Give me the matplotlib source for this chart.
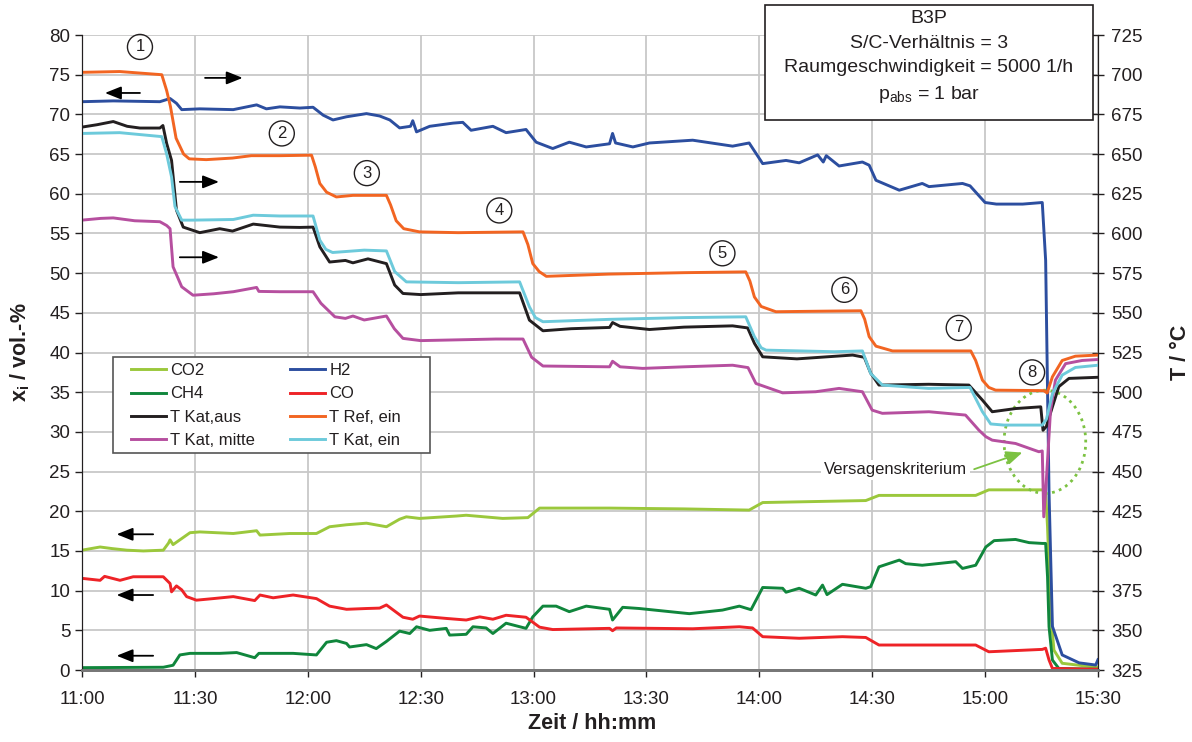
import matplotlib
matplotlib.use('Agg')
import matplotlib.pyplot as plt
from matplotlib.patches import Ellipse, Rectangle

plt.rcParams['font.family'] = ['Liberation Sans', 'DejaVu Sans']
plt.rcParams['mathtext.fontset'] = 'custom'
plt.rcParams['mathtext.rm'] = 'Liberation Sans'
plt.rcParams['mathtext.bf'] = 'Liberation Sans:bold'

# minutes after 11:00, gas fractions in vol.-%
co2 = [(0, 15.1), (4.8, 15.5), (8, 15.3), (11.9, 15.1), (16.3, 15.0), (21.6, 15.1), (23.0, 16.0),
       (23.4, 16.4), (24.2, 15.8), (26, 16.4), (28.7, 17.3), (31.3, 17.4), (40.2, 17.2), (46.4, 17.55),
       (47.3, 17.0), (55.2, 17.2), (62.3, 17.2), (65.8, 18.05), (70.3, 18.3), (75.6, 18.5), (80.9, 18.05),
       (84.4, 19.0), (86.2, 19.3), (89.7, 19.1), (99.5, 19.4), (102.1, 19.5), (111.8, 19.1), (118.5, 19.2),
       (121.6, 20.4), (140.2, 20.4), (160, 20.3), (177.3, 20.15), (180.9, 21.1), (208.3, 21.35),
       (211.8, 22.0), (237.5, 22.0), (241, 22.7), (255.2, 22.7), (256.1, 22.3), (256.6, 18.05),
       (257.4, 7.6), (258.3, 2.5), (260.5, 0.85), (269.7, 0.34), (270, 0.34)]

ch4 = [(0, 0.3), (21.6, 0.35), (24.2, 0.6), (26, 1.9), (28.7, 2.1), (36.6, 2.1), (41.1, 2.2), (45.9, 1.55),
       (47, 2.1), (56.1, 2.1), (62.3, 1.9), (65, 3.5), (67.6, 3.7), (70.3, 3.35), (71.1, 2.9), (75.6, 3.2),
       (78.2, 2.7), (80.9, 3.6), (84.4, 4.9), (87.1, 4.6), (88.9, 5.45), (92.4, 5.0), (96.8, 5.25),
       (97.7, 4.4), (102.1, 4.5), (103.9, 5.45), (107.4, 5.3), (109.2, 4.6), (112.7, 5.9), (118, 5.25),
       (119.8, 6.7), (122.5, 8.05), (126, 8.05), (129.5, 7.35), (134, 8.05), (140.2, 7.65), (141, 6.3),
       (143.7, 7.9), (148.1, 7.75), (161.4, 7.1), (170.2, 7.55), (174.7, 8.05), (177.8, 7.6), (180.9, 10.4),
       (186.2, 10.3), (187.1, 9.8), (190.6, 10.3), (195, 9.45), (196.8, 10.7), (198, 9.5), (202.1, 10.8),
       (208.3, 10.3), (209.6, 10.5), (211.8, 13.0), (217.2, 13.85), (218.9, 13.4), (223.3, 13.2),
       (232.2, 13.65), (234, 12.8), (237.5, 13.2), (240.2, 15.5), (242.4, 16.3), (248.1, 16.45),
       (251.7, 16.05), (255.2, 15.95), (256.1, 15.95), (256.6, 11.75), (257, 5.45), (257.9, 1.26),
       (259.6, 0.2), (270, 0.1)]

co = [(0, 11.55), (4.8, 11.3), (6, 11.8), (10.1, 11.3), (13.6, 11.75), (21.6, 11.75), (23.4, 10.9),
      (23.8, 9.85), (25.1, 10.6), (26.5, 10.1), (27.8, 9.25), (30.4, 8.8), (34.9, 9.0), (40.2, 9.25),
      (45.9, 8.75), (47.3, 9.45), (50.8, 9.1), (56.1, 9.45), (62.3, 9.0), (65.8, 8.05), (70.3, 7.65),
      (75.6, 7.75), (79.1, 7.8), (80.9, 8.2), (85.3, 6.65), (87.9, 6.4), (89.7, 6.8), (96.8, 6.5),
      (102.1, 6.3), (105.7, 6.7), (109.2, 6.4), (112.7, 6.9), (118, 6.65), (121.6, 5.4), (125.1, 5.1),
      (140.2, 5.25), (141, 4.95), (142, 5.3), (162.3, 5.2), (174.7, 5.45), (178.2, 5.3), (180.9, 4.2),
      (190.6, 4.0), (202.1, 4.2), (208.3, 4.1), (211.8, 3.15), (237.5, 3.15), (241, 2.3), (255.2, 2.6),
      (256.1, 2.75), (257, 1.26), (257.9, 0.2), (270, 0.1)]

h2 = [(0, 71.6), (8.3, 71.7), (20.7, 71.6), (23.4, 72.0), (25.1, 71.4), (26.5, 70.6), (31.3, 70.7),
      (40.2, 70.6), (46.4, 71.2), (49, 70.7), (52.6, 70.95), (57.9, 70.8), (61.4, 70.9), (64.1, 69.9),
      (66.7, 69.3), (70.3, 69.7), (75.6, 70.1), (79.1, 69.8), (81.8, 69.3), (84.4, 68.3), (87.3, 68.5),
      (87.9, 69.2), (88.9, 67.8), (92.4, 68.5), (98.6, 68.9), (101.2, 69.0), (103.4, 68.0), (109.2, 68.5),
      (112.7, 67.7), (118, 68.1), (120.7, 66.5), (125.1, 65.7), (129.5, 66.5), (134, 65.9), (140.2, 66.3),
      (141, 67.6), (141.8, 66.4), (146.4, 65.9), (150.8, 66.4), (162.3, 66.75), (172.9, 66.0),
      (177.3, 66.4), (180.9, 63.8), (187.1, 64.2), (190.6, 63.9), (195.5, 64.9), (197, 64.0),
      (197.8, 64.8), (201.2, 63.5), (207.4, 64.0), (209.2, 63.6), (211, 61.7), (217.2, 60.45),
      (223.3, 61.3), (225.1, 60.9), (234, 61.3), (236, 61.0), (240, 58.9), (243, 58.7), (250, 58.7),
      (255.2, 58.9), (256.1, 51.6), (257, 22.3), (257.9, 5.5), (260.5, 1.9), (265, 0.9), (269.4, 0.63),
      (270, 1.3)]

# temperatures in degC
t_ref_ein = [(0, 701.5), (10, 702), (21.2, 700), (22.5, 690), (23.5, 680), (25, 660), (27, 650), (28.5, 647),
             (33, 646.5), (40, 647.5), (45, 649), (52.6, 649), (61, 649.3), (62, 642), (63.2, 631.5),
             (65, 626), (67.6, 623), (72, 624), (80.9, 624), (82, 618), (83.5, 608), (85.5, 603),
             (89.7, 601), (100, 600.5), (117.2, 601), (118.5, 593), (119.8, 581), (121.5, 576), (123.4, 573),
             (140, 574.4), (160, 575.3), (176.4, 575.8), (177.5, 570), (178.7, 560), (180.5, 554),
             (184.4, 550.7), (195, 551), (207, 551.3), (208, 546), (209.2, 535), (211, 529), (215.4, 526),
             (236.2, 526), (237.5, 520), (239.3, 507.6), (241, 503), (242.8, 501.3), (255.6, 501),
             (256.5, 499.5), (257.9, 509.7), (260.5, 520), (264, 522.7), (270, 523.4)]

t_kat_ein = [(0, 663), (10, 663.5), (21.2, 661), (22.5, 650), (23.8, 635.6), (24.7, 617), (26.5, 608.4),
             (29.5, 608.4), (40.2, 608.8), (45.5, 611.5), (52.6, 611), (61.4, 611), (63.2, 595.8),
             (64.8, 590), (66.6, 588), (75, 589.5), (80.9, 589), (83.1, 576), (86.2, 569.5), (100, 569),
             (116.3, 569.5), (118.9, 553.8), (120.5, 547), (122.5, 544.4), (140.2, 545.9), (160, 547),
             (176.4, 547.5), (178.7, 535), (180.5, 528), (181.8, 526.5), (200, 525.5), (207.4, 526),
             (209.6, 511.8), (212.7, 504.5), (225, 502.4), (236, 503), (239.3, 487.7), (241.5, 480),
             (245, 479.3), (255.2, 479.3), (256.3, 483), (257.9, 499), (260.5, 510.8), (264, 515.6),
             (270, 517)]

t_kat_aus = [(0, 667), (4, 668.5), (8.3, 670.5), (12, 667.5), (15.4, 666.4), (20.7, 666.4), (21.5, 668),
             (22.5, 656.7), (23.8, 646), (25.1, 614.7), (26.9, 604), (31.3, 600.5), (36.6, 603), (40, 601.5),
             (45.5, 605.9), (52.6, 604), (57.9, 603.8), (61.4, 604), (63.2, 591.6), (65.8, 582), (70, 583),
             (72, 581.5), (76, 584), (80.9, 581), (83.1, 567.5), (85.3, 562.2), (90, 561.5), (100, 562.6),
             (116.3, 562.6), (118.9, 545.4), (122.5, 538.7), (130, 540), (140.2, 540.8), (141, 543.9),
             (143, 541.5), (150.8, 539.5), (160, 541), (172.9, 541.8), (176.9, 540.5), (178.7, 530.8),
             (180.9, 522.3), (190, 521), (204.8, 523.4), (207.9, 522), (209.6, 512), (211.8, 504.5),
             (225, 505), (235.7, 504.5), (239.3, 495), (241.9, 487.7), (248.1, 489.7), (254.8, 490.8),
             (255.4, 476), (256.3, 478.5), (257.9, 490.8), (259.6, 503.5), (262.3, 508.7), (270, 509.4)]

t_kat_mitte = [(0, 608.4), (5, 609.5), (8.3, 609.8), (14, 608), (20.7, 607.4), (22.5, 605), (23.4, 603),
               (24.2, 579), (26.5, 566.4), (29.5, 561.1), (35, 562), (40.2, 563.3), (46.4, 566), (47, 563.5),
               (52.6, 563.3), (61.4, 563.3), (63.5, 556), (67.2, 547.5), (70, 546.5), (72, 548), (75, 545.5),
               (80.9, 548), (83, 540), (85.3, 533.9), (90, 532.5), (100, 533), (110, 533.5), (117.2, 533.5),
               (119.5, 522), (122.5, 516.5), (140.2, 516), (141, 519.5), (143, 516), (149, 515), (160, 516),
               (172.9, 517), (177, 515.5), (179.1, 505.5), (186.2, 499.6), (195, 500.3), (201.2, 502.4),
               (207.4, 500.3), (210, 488.7), (212.7, 486.7), (225.1, 487.7), (234.8, 485.6), (238.4, 476),
               (240.2, 472), (241.9, 469.8), (248.1, 467.7), (254.3, 462.5), (255.2, 463), (255.6, 421.5),
               (256.3, 445), (257.4, 488.7), (258.7, 507.6), (261.4, 518), (265.8, 520), (270, 520.6)]

time_ticks = [0, 30, 60, 90, 120, 150, 180, 210, 240, 270]
time_labels = ['11:00', '11:30', '12:00', '12:30', '13:00', '13:30', '14:00', '14:30', '15:00', '15:30']

gas_series = [('CO2', co2, '#9bc83c'), ('CH4', ch4, '#10863c'), ('H2', h2, '#2c4e9f'), ('CO', co, '#ee2327')]
temp_series = [('T Kat,aus', t_kat_aus, '#231f20'), ('T Kat, mitte', t_kat_mitte, '#b64f9f'),
               ('T Ref, ein', t_ref_ein, '#f26522'), ('T Kat, ein', t_kat_ein, '#6dcadb')]

# circled step numbers (minute, vol.-%)
steps = ['1', '2', '3', '4', '5', '6', '7', '8']
step_pos = [(15.4, 78.5), (53.1, 67.6), (75.7, 62.6), (110.9, 57.9), (170.2, 52.5), (202.6, 47.9),
            (233.0, 43.1), (252.5, 37.5)]
# axis hint arrows: (tail, head)
hint_arrows = [((32.7, 74.6), (42.7, 74.6)), ((26.0, 61.5), (36.4, 61.5)), ((26.0, 52.0), (36.4, 52.0)),
               ((15.4, 72.7), (6.1, 72.7)), ((18.9, 17.1), (9.2, 17.1)), ((18.9, 9.45), (9.2, 9.45)),
               ((18.9, 1.8), (9.2, 1.8))]

text_col = '#231f20'
fig = plt.figure(figsize=(11.92, 7.42), dpi=100)
ax = fig.add_axes([0.0688, 0.097, 0.8523, 0.8558])
ax2 = ax.twinx()

handles = {}
for name, pts, col in gas_series:
    t, v = zip(*pts)
    handles[name], = ax.plot(t, v, color=col, lw=2.1, label=name)
for name, pts, col in temp_series:
    t, v = zip(*pts)
    handles[name], = ax2.plot(t, v, color=col, lw=2.1, label=name)

ax.set_xlim(0, 270)
ax.set_ylim(0, 80)
ax2.set_ylim(325, 725)
ax.set_xticks(time_ticks)
ax.set_xticklabels(time_labels)
ax.set_yticks(range(0, 81, 5))
ax2.set_yticks(range(325, 726, 25))

ax.grid(True, color='#c8c8c8', lw=1.3)
ax.set_axisbelow(True)
for a in (ax, ax2):
    a.spines['top'].set_visible(False)
    a.spines['bottom'].set_color('#777777')
    a.spines['bottom'].set_linewidth(2.0)
    a.spines['left'].set_color(text_col)
    a.spines['right'].set_color(text_col)
ax.tick_params(axis='both', labelsize=13.5, labelcolor=text_col, color=text_col, length=5, width=1)
ax.tick_params(axis='x', pad=10)
ax2.tick_params(axis='y', labelsize=13.5, labelcolor=text_col, color=text_col, direction='inout',
                length=9, width=1, pad=5)

ax.set_xlabel('Zeit / hh:mm', fontsize=15.5, fontweight='bold', color=text_col)
ax.set_ylabel(r'x$_\mathbf{i}$ / vol.-%', fontsize=15.5, fontweight='bold', color=text_col)
ax2.set_ylabel('T / °C', fontsize=15.5, fontweight='bold', color=text_col)
ax.xaxis.set_label_coords(0.502, -0.068)
ax.yaxis.set_label_coords(-0.049, 0.5)
ax2.yaxis.set_label_coords(1.071, 0.5)

for s, (t, v) in zip(steps, step_pos):
    ax2.text(t, v, s, transform=ax.transData, ha='center', va='center', fontsize=12, color=text_col,
             bbox=dict(boxstyle='circle,pad=0.3', fc='none', ec=text_col, lw=1))
for tail, head in hint_arrows:
    ax2.annotate('', xy=head, xytext=tail, xycoords=ax.transData, textcoords=ax.transData,
                 arrowprops=dict(arrowstyle='-|>,head_length=0.7,head_width=0.28', color='black',
                                 lw=1.3, mutation_scale=14, shrinkA=0, shrinkB=0))

# failure criterion marker
crit_col = '#7cc242'
ax2.add_patch(Ellipse((255.9, 28.75), 21.7, 13.0, transform=ax.transData, fill=False, ec=crit_col,
                      lw=2, ls=(0, (1, 1.6))))
ax2.text(216.3, 25.2, 'Versagenskriterium', transform=ax.transData, ha='center', va='center',
         fontsize=12, color=text_col, bbox=dict(fc='white', ec='none', pad=2))
ax2.annotate('', xy=(249.9, 27.4), xytext=(237.1, 25.3), xycoords=ax.transData, textcoords=ax.transData,
             arrowprops=dict(arrowstyle='-|>,head_length=0.7,head_width=0.3', color=crit_col,
                             lw=1.3, mutation_scale=14, shrinkA=0, shrinkB=0))

# legend: entries without frame, frame drawn as its own box
ax2.add_patch(Rectangle((0.0305, 0.3417), 0.312, 0.1512, transform=ax2.transAxes, fc='white',
                        ec='#555555', lw=1.2, zorder=4))
order = ['CO2', 'CH4', 'T Kat,aus', 'T Kat, mitte', 'H2', 'CO', 'T Ref, ein', 'T Kat, ein']
leg = ax2.legend([handles[n] for n in order], order, ncol=2, loc='upper left',
                 bbox_to_anchor=(0.0482, 0.4835), fontsize=12, frameon=False,
                 handlelength=2.1, handletextpad=0.25, columnspacing=2.1,
                 borderpad=0, labelspacing=0.5, borderaxespad=0)
leg.set_zorder(5)
for txt in leg.get_texts():
    txt.set_color(text_col)

# condition box above the plot area
fig.add_artist(Rectangle((0.6418, 0.8383), 0.2752, 0.155, transform=fig.transFigure, fc='white',
                         ec=text_col, lw=1.2, zorder=5))
box_lines = ['B3P', 'S/C-Verhältnis = 3', 'Raumgeschwindigkeit = 5000 1/h', r'p$_\mathrm{abs}$ = 1 bar']
for line, y in zip(box_lines, [0.9757, 0.942, 0.9084, 0.872]):
    fig.text(0.779, y, line, ha='center', va='center', fontsize=14, color=text_col, zorder=6)

fig.savefig('out.png', dpi=100)
